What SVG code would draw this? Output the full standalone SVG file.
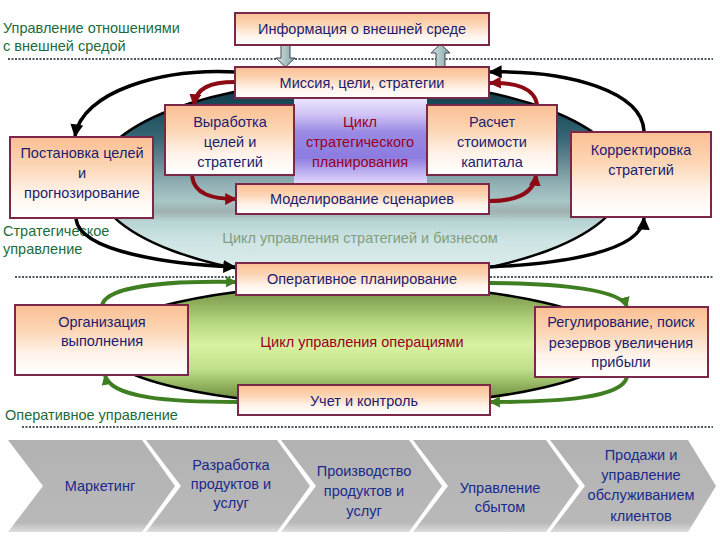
<svg xmlns="http://www.w3.org/2000/svg" width="720" height="540" viewBox="0 0 720 540">
<defs>
<linearGradient id="gBox" x1="0" y1="0" x2="0" y2="1">
<stop offset="0" stop-color="#fbbf93"/><stop offset="0.35" stop-color="#fcd5b4"/><stop offset="0.7" stop-color="#fff3ea"/><stop offset="1" stop-color="#ffffff"/>
</linearGradient>
<linearGradient id="gStrat" gradientUnits="userSpaceOnUse" x1="0" y1="80" x2="0" y2="282">
<stop offset="0" stop-color="#0c3644"/><stop offset="0.15" stop-color="#1b4c5a"/><stop offset="0.3" stop-color="#3a6a78"/><stop offset="0.42" stop-color="#6c8e96"/><stop offset="0.52" stop-color="#93b2b6"/><stop offset="0.6" stop-color="#a9c6c6"/><stop offset="0.65" stop-color="#a0b0b0"/><stop offset="0.7" stop-color="#b8d4d4"/><stop offset="0.8" stop-color="#cfe4e4"/><stop offset="1" stop-color="#e2f0f0"/>
</linearGradient>
<linearGradient id="gOp" gradientUnits="userSpaceOnUse" x1="0" y1="285" x2="0" y2="405">
<stop offset="0" stop-color="#6f8f45"/><stop offset="0.15" stop-color="#8fae5c"/><stop offset="0.32" stop-color="#b8d880"/><stop offset="0.5" stop-color="#d8f2a2"/><stop offset="0.7" stop-color="#c0e08a"/><stop offset="0.85" stop-color="#8fae5c"/><stop offset="1" stop-color="#5f7f35"/>
</linearGradient>
<linearGradient id="gPurple" gradientUnits="userSpaceOnUse" x1="0" y1="98" x2="0" y2="183">
<stop offset="0" stop-color="#ece6ff"/><stop offset="0.2" stop-color="#cfc2f4"/><stop offset="0.4" stop-color="#9a8ae4"/><stop offset="0.7" stop-color="#8c7ce0"/><stop offset="0.85" stop-color="#b8aaf0"/><stop offset="1" stop-color="#e0d8f8"/>
</linearGradient>
<linearGradient id="gChev" x1="0" y1="0" x2="0" y2="1">
<stop offset="0" stop-color="#b2b2b2"/><stop offset="0.9" stop-color="#b9b9b9"/><stop offset="1" stop-color="#dedede"/>
</linearGradient>
<linearGradient id="gArr" x1="0" y1="0" x2="1" y2="0">
<stop offset="0" stop-color="#d8e4e4"/><stop offset="1" stop-color="#7fa4a4"/>
</linearGradient>
<marker id="mBlack" viewBox="0 0 10 10" refX="9" refY="5" markerWidth="13" markerHeight="13" markerUnits="userSpaceOnUse" orient="auto"><path d="M0,0 L10,5 L0,10 z" fill="#000"/></marker>
<marker id="mRed" viewBox="0 0 10 10" refX="9" refY="5" markerWidth="12" markerHeight="12" markerUnits="userSpaceOnUse" orient="auto"><path d="M0,0 L10,5 L0,10 z" fill="#8b0a14"/></marker>
<marker id="mGreen" viewBox="0 0 10 10" refX="9" refY="5" markerWidth="11" markerHeight="11" markerUnits="userSpaceOnUse" orient="auto"><path d="M0,0 L10,5 L0,10 z" fill="#3f7f22"/></marker>
</defs>
<style>
.box{fill:url(#gBox);stroke:#7b2848;stroke-width:2}
.t{font-family:"Liberation Sans",Arial,sans-serif;font-size:14.5px;fill:#1c1c6e;text-anchor:middle}
.lbl{font-family:"Liberation Sans",Arial,sans-serif;font-size:14.5px;fill:#1d6b3b}
.cyc{font-family:"Liberation Sans",Arial,sans-serif;font-size:14.5px;fill:#990022;text-anchor:middle}
.dot{stroke:#4a5a66;stroke-width:2;stroke-dasharray:2 1.5;fill:none}
.blk{stroke:#000;stroke-width:3.5;fill:none;marker-end:url(#mBlack)}
.red{stroke:#8b0a14;stroke-width:4;fill:none;marker-end:url(#mRed)}
.grn{stroke:#3f7f22;stroke-width:4;fill:none;marker-end:url(#mGreen)}
.chev{fill:url(#gChev)}
.ct{font-family:"Liberation Sans",Arial,sans-serif;font-size:14.5px;fill:#1a2a8a;text-anchor:middle}
</style>
<rect width="720" height="540" fill="#fff"/>

<g id="background">
<ellipse cx="360" cy="180" rx="265" ry="100" fill="url(#gStrat)" stroke="#000" stroke-width="2.5"/>
<ellipse cx="360" cy="345" rx="260" ry="60" fill="url(#gOp)" stroke="#000" stroke-width="2.5"/>
<rect x="294" y="98" width="133" height="85" fill="url(#gPurple)"/>
<line class="dot" x1="8" y1="59" x2="713" y2="59"/>
<line class="dot" x1="15" y1="277" x2="236" y2="277"/>
<line class="dot" x1="490" y1="277" x2="713" y2="277"/>
<line class="dot" x1="22" y1="427" x2="713" y2="427"/>
<text class="lbl" x="3" y="33">Управление отношениями</text>
<text class="lbl" x="3" y="51">с внешней средой</text>
<text class="lbl" x="3" y="236">Стратегическое</text>
<text class="lbl" x="3" y="254">управление</text>
<text class="lbl" x="5" y="420">Оперативное управление</text>
<text class="cyc" x="360" y="127">Цикл</text>
<text class="cyc" x="360" y="147">стратегического</text>
<text class="cyc" x="360" y="167">планирования</text>
<text x="360" y="243" font-family="Liberation Sans, Arial, sans-serif" font-size="14.5" fill="#7f9f80" text-anchor="middle">Цикл управления стратегией и бизнесом</text>
<text class="cyc" x="362" y="347">Цикл управления операциями</text>
</g>

<g id="connectors">
<path class="blk" d="M236,72 C160,68 82,92 75,136"/>
<path class="blk" d="M76,219 C80,252 170,264 235,267"/>
<path class="blk" d="M489,267 C560,264 642,252 644,218"/>
<path class="blk" d="M644,131 C642,92 570,70 490,72"/>
<path class="red" d="M235,82 C210,82 196,88 194,105"/>
<path class="red" d="M192,176 C194,194 212,199 236,199"/>
<path class="red" d="M489,201 C515,201 534,194 536,175"/>
<path class="red" d="M537,105 C535,88 515,82 490,83"/>
<path class="grn" d="M102,305 C108,284 180,281 236,282"/>
<path class="grn" d="M489,283 C560,283 622,290 627,307"/>
<path class="grn" d="M627,377 C622,398 560,402 490,402"/>
<path class="grn" d="M238,402 C170,402 110,398 105,375"/>
<path d="M281,44 h9 v14 h5 l-9.5,9 l-9.5,-9 h5 z" fill="url(#gArr)" stroke="#445" stroke-width="1"/>
<path d="M436,67 h9 v-14 h5 l-9.5,-9 l-9.5,9 h5 z" fill="url(#gArr)" stroke="#445" stroke-width="1"/>
</g>

<g id="n-info"><rect class="box" x="235" y="13" width="254" height="32"/><text class="t" x="362" y="34">Информация о внешней среде</text></g>
<g id="n-mission"><rect class="box" x="235" y="67" width="254" height="31"/><text class="t" x="362" y="88">Миссия, цели, стратегии</text></g>
<g id="n-goals"><rect class="box" x="165" y="105" width="129" height="70"/><text class="t" x="230" y="127">Выработка</text><text class="t" x="230" y="147">целей и</text><text class="t" x="230" y="167">стратегий</text></g>
<g id="n-capital"><rect class="box" x="427" y="105" width="130" height="70"/><text class="t" x="492" y="127">Расчет</text><text class="t" x="492" y="147">стоимости</text><text class="t" x="492" y="167">капитала</text></g>
<g id="n-model"><rect class="box" x="236" y="184" width="253" height="30"/><text class="t" x="362" y="204">Моделирование сценариев</text></g>
<g id="n-forecast"><rect class="box" x="10" y="137" width="143" height="81"/><text class="t" x="82" y="158">Постановка целей</text><text class="t" x="82" y="178">и</text><text class="t" x="82" y="198">прогнозирование</text></g>
<g id="n-correct"><rect class="box" x="571" y="132" width="140" height="85"/><text class="t" x="641" y="155">Корректировка</text><text class="t" x="641" y="175">стратегий</text></g>
<g id="n-opplan"><rect class="box" x="236" y="263" width="253" height="32"/><text class="t" x="362" y="284">Оперативное планирование</text></g>
<g id="n-org"><rect class="box" x="15" y="305" width="173" height="70"/><text class="t" x="102" y="327">Организация</text><text class="t" x="102" y="346">выполнения</text></g>
<g id="n-reg"><rect class="box" x="535" y="307" width="173" height="70"/><text class="t" x="621" y="327">Регулирование, поиск</text><text class="t" x="621" y="348">резервов увеличения</text><text class="t" x="621" y="367">прибыли</text></g>
<g id="n-control"><rect class="box" x="238" y="385" width="252" height="30"/><text class="t" x="364" y="406">Учет и контроль</text></g>

<g id="n-chev1"><path class="chev" d="M8,440 H142 L175,486 L142,532 H8 L43,486 Z"/><text class="ct" x="100" y="491">Маркетинг</text></g>
<g id="n-chev2"><path class="chev" d="M146,440 H277 L310,486 L277,532 H146 L181,486 Z"/><text class="ct" x="231" y="470">Разработка</text><text class="ct" x="231" y="489">продуктов и</text><text class="ct" x="231" y="508">услуг</text></g>
<g id="n-chev3"><path class="chev" d="M281,440 H409 L442,486 L409,532 H281 L316,486 Z"/><text class="ct" x="364" y="476">Производство</text><text class="ct" x="364" y="496">продуктов и</text><text class="ct" x="364" y="516">услуг</text></g>
<g id="n-chev4"><path class="chev" d="M413,440 H546 L579,486 L546,532 H413 L448,486 Z"/><text class="ct" x="500" y="493">Управление</text><text class="ct" x="500" y="512">сбытом</text></g>
<g id="n-chev5"><path class="chev" d="M550,440 H688 L716,486 L688,532 H550 L585,486 Z"/><text class="ct" x="641" y="460">Продажи и</text><text class="ct" x="641" y="480">управление</text><text class="ct" x="641" y="500">обслуживанием</text><text class="ct" x="641" y="521">клиентов</text></g>
</svg>
